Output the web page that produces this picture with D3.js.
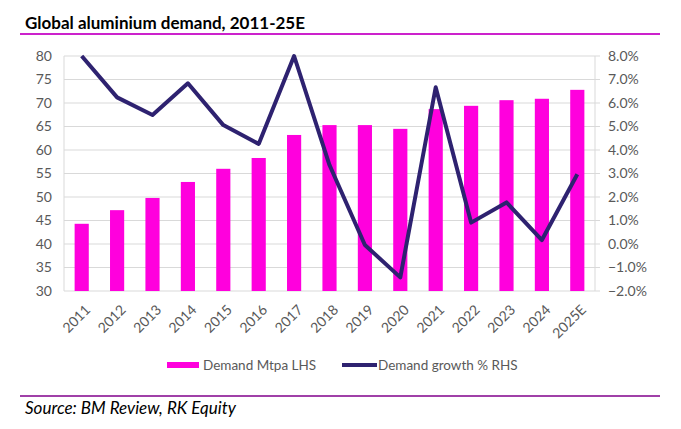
<!DOCTYPE html>
<html>
<head>
<meta charset="utf-8">
<script src="https://cdn.jsdelivr.net/npm/d3@7"></script>
<style>
  body { margin: 0; background: #fff; }
  text { font-family: Lato, "Open Sans", sans-serif; }
</style>
</head>
<body>
<div id="chart"></div>
<script>
const width = 681
const height = 429
const margin = { top: 56, bottom: 138, left: 64, right: 86 }

// data
const years = ["2011", "2012", "2013", "2014", "2015", "2016", "2017", "2018", "2019", "2020", "2021", "2022", "2023", "2024", "2025E"]
const demand = [44.3, 47.2, 49.8, 53.2, 56.0, 58.3, 63.2, 65.3, 65.3, 64.5, 68.7, 69.4, 70.6, 70.9, 72.8]
const growth = [8.0, 6.24, 5.49, 6.84, 5.06, 4.26, 8.0, 3.36, -0.04, -1.42, 6.67, 0.91, 1.77, 0.17, 2.97]
const leftTicks = [30, 35, 40, 45, 50, 55, 60, 65, 70, 75, 80]
const rightTicks = [-2, -1, 0, 1, 2, 3, 4, 5, 6, 7, 8]

const innerW = width - margin.left - margin.right
const innerH = height - margin.top - margin.bottom

const svg = d3.select("#chart").append("svg").attr("width", width).attr("height", height)

// title + rules
svg.append("text").attr("x", 25).attr("y", 29).text("Global aluminium demand, 2011-25E")
    .attr("font-size", 17).attr("font-weight", "bold").attr("fill", "#000")
svg.append("line").attr("x1", 20).attr("x2", 660).attr("y1", 34).attr("y2", 34)
    .attr("stroke", "#cc22cc").attr("stroke-width", 2)
svg.append("line").attr("x1", 20).attr("x2", 660).attr("y1", 396).attr("y2", 396)
    .attr("stroke", "#a040a8").attr("stroke-width", 2)
svg.append("text").attr("x", 25).attr("y", 414).text("Source: BM Review, RK Equity")
    .attr("font-size", 17).attr("font-style", "italic").attr("fill", "#000")

const g = svg.append("g").attr("transform", `translate(${margin.left}, ${margin.top})`)

const x = d3.scaleBand().domain(years).range([0, innerW]).paddingInner(0.6).paddingOuter(0.3)
const y = d3.scaleLinear().domain([30, 80]).range([innerH, 0])
const y2 = d3.scaleLinear().domain([-2, 8]).range([innerH, 0])

// grid
g.append("g").selectAll("line").data(leftTicks).join("line")
    .attr("x1", 0).attr("x2", innerW + 5)
    .attr("y1", d => y(d)).attr("y2", d => y(d))
    .attr("stroke", "#d9d9d9")
g.append("line").attr("x1", 0).attr("x2", 0).attr("y1", 0).attr("y2", innerH).attr("stroke", "#d9d9d9")
g.append("line").attr("x1", innerW).attr("x2", innerW).attr("y1", 0).attr("y2", innerH).attr("stroke", "#d9d9d9")

// bars
g.append("g").selectAll("rect").data(demand).join("rect")
    .attr("x", (d, i) => x(years[i]))
    .attr("y", d => y(d))
    .attr("width", x.bandwidth())
    .attr("height", d => innerH - y(d))
    .attr("fill", "#ff00dd")

// line
const line = d3.line().x((d, i) => x(years[i]) + x.bandwidth() / 2).y(d => y2(d))
g.append("path").datum(growth).attr("d", line)
    .attr("fill", "none").attr("stroke", "#2e2270").attr("stroke-width", 4)
    .attr("stroke-linejoin", "round")

// axes
const yAxis = d3.axisLeft(y).tickValues(leftTicks).tickSize(0).tickPadding(12)
const yAxis2 = d3.axisRight(y2).tickValues(rightTicks).tickSize(0).tickPadding(13)
    .tickFormat(d => d3.format(".1f")(d) + "%")
const xAxis = d3.axisBottom(x).tickSize(0).tickPadding(8)

const style = sel => {
    sel.select(".domain").remove()
    sel.selectAll("text").attr("fill", "#595959").attr("font-size", 14)
        .attr("font-family", "Lato, 'Open Sans', sans-serif")
}
g.append("g").call(yAxis).call(style)
g.append("g").attr("transform", `translate(${innerW}, 0)`).call(yAxis2).call(style)
g.append("g").attr("transform", `translate(0, ${innerH})`).call(xAxis).call(style)
    .selectAll("text")
    .attr("text-anchor", "end")
    .attr("dy", null)
    .attr("transform", function () { return "translate(4, 14) rotate(-45)" })

// legend
const lg = svg.append("g").attr("transform", "translate(0, 365)")
lg.append("rect").attr("x", 167).attr("y", -3).attr("width", 32).attr("height", 6).attr("fill", "#ff00dd")
lg.append("text").attr("x", 203).attr("y", 5).text("Demand Mtpa LHS").attr("fill", "#595959").attr("font-size", 13.5)
lg.append("line").attr("x1", 342).attr("x2", 377).attr("y1", 0).attr("y2", 0)
    .attr("stroke", "#2e2270").attr("stroke-width", 4)
lg.append("text").attr("x", 378).attr("y", 5).text("Demand growth % RHS").attr("fill", "#595959").attr("font-size", 13.5)
</script>
</body>
</html>
